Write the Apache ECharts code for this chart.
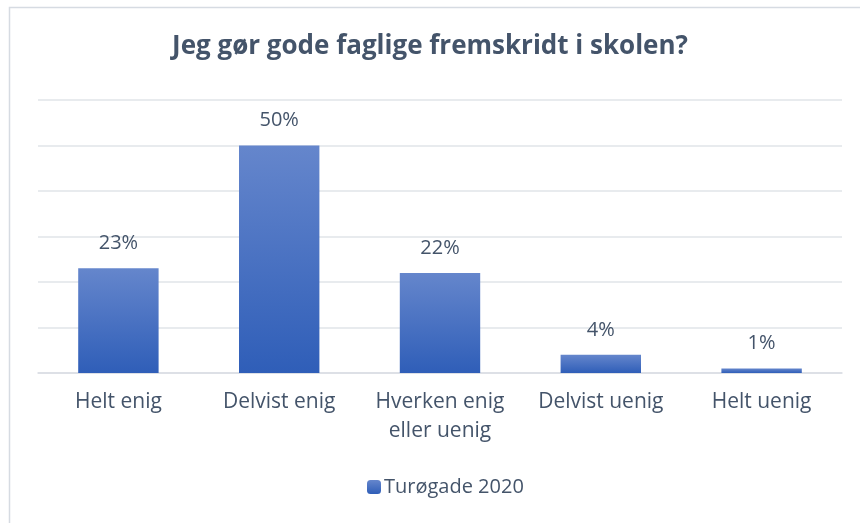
<!DOCTYPE html>
<html>
<head>
<meta charset="utf-8">
<script src="https://cdn.jsdelivr.net/npm/echarts@6/dist/echarts.min.js"></script>
<style>
  html, body { margin: 0; padding: 0; background: #fff; }
  #chart { width: 860px; height: 523px; }
</style>
</head>
<body>
<div id="chart"></div>
<script>
var titleText = 'Jeg gør gode faglige fremskridt i skolen?'
var categories = ['Helt enig', 'Delvist enig', 'Hverken enig\neller uenig', 'Delvist uenig', 'Helt uenig']
var seriesName = 'Turøgade 2020'
var values = [23, 50, 22, 4, 1]

var textColor = '#44546A'
var myChart = echarts.init(document.getElementById('chart'))

// blue bars, lighter on top
var barColor = new echarts.graphic.LinearGradient(0, 0, 0, 1, [
  { offset: 0, color: '#6586cc' },
  { offset: 1, color: '#2f5eb8' }
])

var option = {
  animation: false,
  backgroundColor: '#fff',
  textStyle: { fontFamily: 'Open Sans' },
  graphic: [{
    type: 'rect',
    shape: { x: 9.5, y: 7.5, width: 900, height: 600 },
    style: { fill: 'none', stroke: '#d6dbe2', lineWidth: 1.5 },
    silent: true
  }],
  title: {
    text: titleText,
    left: 'center',
    top: 34,
    padding: 0,
    textStyle: {
      fontFamily: 'Open Sans',
      fontSize: 26,
      fontWeight: 'bold',
      color: textColor
    }
  },
  legend: {
    data: [seriesName],
    left: 362,
    top: 472,
    itemWidth: 14,
    itemHeight: 14,
    itemGap: 5,
    textStyle: { fontSize: 20, color: textColor, padding: [0, 0, 0, -2] }
  },
  grid: {
    left: 38,
    right: 18,
    top: 100,
    bottom: 150,
    containLabel: false
  },
  xAxis: {
    type: 'category',
    data: categories,
    axisLine: { lineStyle: { color: '#d9dde3', width: 1.5 } },
    axisTick: { show: false },
    axisLabel: {
      interval: 0,
      margin: 15,
      fontSize: 21,
      lineHeight: 29,
      color: textColor
    }
  },
  yAxis: {
    type: 'value',
    min: 0,
    max: 60,
    interval: 10,
    axisLabel: { show: false },
    axisLine: { show: false },
    axisTick: { show: false },
    splitLine: { lineStyle: { color: '#e1e4e9', width: 1.5 } }
  },
  series: [{
    name: seriesName,
    type: 'bar',
    data: values,
    barWidth: '50%',
    itemStyle: { color: barColor },
    label: {
      show: true,
      position: 'top',
      distance: 15,
      fontSize: 20,
      color: textColor,
      formatter: '{c}%'
    }
  }]
}

myChart.setOption(option)
</script>
</body>
</html>
